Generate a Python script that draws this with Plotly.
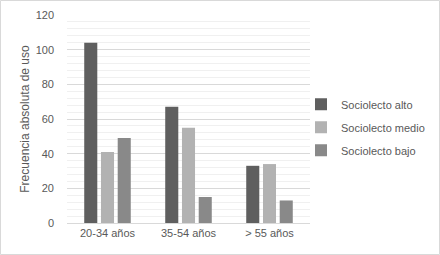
import plotly.graph_objects as go

categories = ["20-34 años", "35-54 años", "> 55 años"]
alto = [104, 67, 33]
medio = [41, 55, 34]
bajo = [49, 15, 13]
series_names = ["Sociolecto alto", "Sociolecto medio", "Sociolecto bajo"]
colors = ["#5f5f5f", "#b2b2b2", "#898989"]

fig = go.Figure()
for name, vals, c in zip(series_names, [alto, medio, bajo], colors):
    fig.add_trace(go.Bar(x=categories, y=vals, name=name, marker_color=c,
                         marker_line_width=0, legendgroup=name))

font = dict(family="Liberation Sans, Arial, sans-serif", size=11, color="#595959")
title_font = dict(family="Liberation Sans, Arial, sans-serif", size=12, color="#595959")
fig.update_layout(
    width=440, height=255,
    margin=dict(l=67, r=130, t=15, b=32, autoexpand=False),
    paper_bgcolor="white", plot_bgcolor="white",
    font=font,
    barmode="group", bargap=0.38, bargroupgap=0.22,
    showlegend=True,
    legend=dict(x=(301 - 67) / 243, y=0.46, xanchor="left", yanchor="middle", font=font,
                itemwidth=30, traceorder="grouped", tracegroupgap=4,
                bgcolor="rgba(0,0,0,0)"),
    xaxis=dict(showline=True, linecolor="#d9d9d9", linewidth=1, ticks="", showgrid=False,
               automargin=False),
    yaxis=dict(range=[0, 120], dtick=20, showgrid=True, gridcolor="#d9d9d9", gridwidth=1,
               zeroline=False, showline=False, ticks="", automargin=False,
               ticklabelstandoff=12,
               minor=dict(dtick=4, showgrid=True, gridcolor="#f0f0f0", gridwidth=1),
               title=dict(text="Frecuencia absoluta de uso", font=title_font, standoff=3)),
    shapes=[dict(type="rect", xref="paper", yref="paper", x0=-66.5 / 243, x1=1 + 129.5 / 243,
                 y0=-31.5 / 208, y1=1 + 14.5 / 208, line=dict(color="#d9d9d9", width=1))],
)
fig.write_html("out.html", config={"displayModeBar": False},
               post_script="document.body.style.margin='0px';document.body.style.overflow='hidden';")
